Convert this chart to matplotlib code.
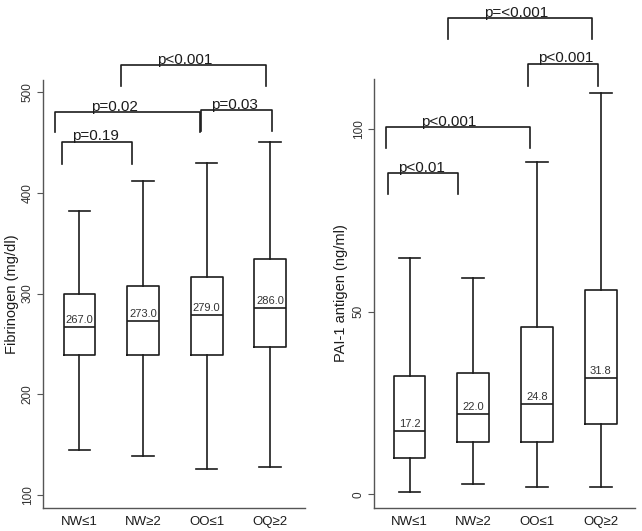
import matplotlib
matplotlib.use("Agg")
import matplotlib.pyplot as plt

plt.rcParams['font.family'] = ['Liberation Sans', 'DejaVu Sans']

# categories
groups = ['NW≤1', 'NW≥2', 'OO≤1', 'OQ≥2']

# fibrinogen (mg/dl)
fib_lo = [145, 139, 126, 128]
fib_q1 = [239, 239, 239, 247]
fib_med = [267.0, 273.0, 279.0, 286.0]
fib_q3 = [300, 308, 316, 334]
fib_hi = [382, 412, 430, 451]
fib_ticks = [100, 200, 300, 400, 500]
# brackets: (x left, x right, line level, leg bottom, text x, label)
fib_brackets = [
    (0.725, 1.825, 451, 429, 1.244, 'p=0.19'),
    (0.61, 2.895, 480.5, 460, 1.558, 'p=0.02'),
    (2.915, 4.02, 482, 461, 3.445, 'p=0.03'),
    (1.66, 3.93, 527, 506, 2.659, 'p<0.001'),
]

# PAI-1 antigen (ng/ml)
pai_lo = [0.7, 2.8, 1.9, 1.9]
pai_q1 = [10.0, 14.2, 14.2, 19.2]
pai_med = [17.2, 22.0, 24.8, 31.8]
pai_q3 = [32.4, 33.1, 45.9, 55.9]
pai_hi = [64.8, 59.1, 91.0, 110.0]
pai_ticks = [0, 50, 100]
pai_brackets = [
    (0.668, 1.76, 88.0, 82.2, 1.19, 'p<0.01'),
    (0.627, 2.889, 100.5, 94.7, 1.62, 'p<0.001'),
    (2.862, 3.959, 117.9, 111.9, 3.45, 'p<0.001'),
    (1.599, 3.865, 130.3, 124.6, 2.67, 'p=<0.001'),
]

W, H = 642, 531
ink = '#1c1c1c'

fig = plt.figure(figsize=(W / 100, H / 100), dpi=100)


def panel(px_left, px_right, px_top, px_bottom, ylim, xlim, lo, q1, med, q3, hi,
          ticks, brackets, ylabel, label_off):
    ax = fig.add_axes([px_left / W, 1 - px_bottom / H,
                       (px_right - px_left) / W, (px_bottom - px_top) / H])
    stats = []
    for i in range(len(groups)):
        stats.append(dict(whislo=lo[i], q1=q1[i], med=med[i], q3=q3[i],
                          whishi=hi[i], fliers=[], label=groups[i]))
    pos = list(range(1, len(groups) + 1))
    lp = dict(color=ink, linewidth=1.2)
    ax.bxp(stats, positions=pos, widths=0.5, showfliers=False,
           boxprops=lp, whiskerprops=lp, capprops=lp, medianprops=lp,
           capwidths=0.34)
    span = ylim[1] - ylim[0]
    for i in range(len(groups)):
        ax.text(pos[i], med[i] + span * 0.005, '{:.1f}'.format(med[i]),
                ha='center', va='bottom', fontsize=8, color='#333333')
    for xa, xb, top, leg, tx, lab in brackets:
        ax.plot([xa, xa, xb, xb], [leg, top, top, leg],
                color=ink, linewidth=1.2, clip_on=False)
        ax.text(tx, top - span * 0.004, lab, ha='center', va='bottom',
                fontsize=11, color=ink, clip_on=False)
    ax.set_xlim(*xlim)
    ax.set_ylim(*ylim)
    ax.set_yticks(ticks)
    ax.set_yticklabels([str(t) for t in ticks], rotation=90, va='center',
                       fontsize=8.5, color='#333333')
    ax.set_xticks(pos)
    ax.set_xticklabels(groups, fontsize=9.5, color=ink)
    ax.tick_params(axis='x', length=0, pad=6)
    ax.tick_params(axis='y', length=4, width=0.8, color='#555555', pad=3)
    for s in ['top', 'right']:
        ax.spines[s].set_visible(False)
    for s in ['left', 'bottom']:
        ax.spines[s].set_color('#555555')
        ax.spines[s].set_linewidth(1.0)
    ax.set_ylabel(ylabel, fontsize=10.5, color=ink, va='center')
    ax.yaxis.set_label_coords(-label_off / (px_right - px_left), 0.5)
    return ax


panel(43.3, 305, 80, 507.7, (87.4, 512.1), (0.431, 4.546),
      fib_lo, fib_q1, fib_med, fib_q3, fib_hi, fib_ticks, fib_brackets,
      'Fibrinogen (mg/dl)', 31.3)
panel(374.3, 635, 79, 508, (-3.75, 113.7), (0.448, 4.534),
      pai_lo, pai_q1, pai_med, pai_q3, pai_hi, pai_ticks, pai_brackets,
      'PAI-1 antigen (ng/ml)', 33.3)

fig.savefig('out.png', dpi=100, facecolor='white')
